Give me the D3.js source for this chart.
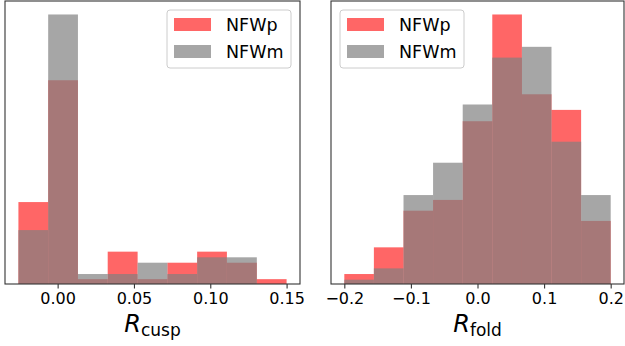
<!DOCTYPE html>
<html>
<head>
<meta charset="utf-8">
<script src="https://cdn.jsdelivr.net/npm/d3@7"></script>
<style>
  body { margin: 0; background: white; }
  svg { display: block; font-family: "DejaVu Sans", sans-serif; }
</style>
</head>
<body>
<svg id="chart" width="625" height="346"></svg>
<script>
// left panel: R_cusp, 9 bins from -0.0257 to 0.15
const cuspEdges = [-0.0257, -0.0062, 0.0133, 0.0328, 0.0524, 0.0719, 0.0914, 0.1109, 0.1305, 0.15];
const cuspP = [15.2, 37.8, 0.9, 6.0, 0.9, 3.95, 6.0, 3.95, 0.9];
const cuspM = [10.0, 50.0, 1.85, 1.85, 3.95, 1.85, 4.95, 4.95, 0];
const cuspTicks = [0.00, 0.05, 0.10, 0.15];

// right panel: R_fold, 9 bins from -0.2 to 0.2
const foldEdges = [-0.2, -0.1556, -0.1111, -0.0667, -0.0222, 0.0222, 0.0667, 0.1111, 0.1556, 0.2];
const foldP = [1.85, 6.8, 13.6, 15.6, 30.2, 50.0, 35.2, 32.3, 11.7];
const foldM = [0.8, 2.9, 16.5, 22.5, 33.3, 42.0, 44.0, 26.4, 16.5];
const foldTicks = [-0.2, -0.1, 0.0, 0.1, 0.2];

const seriesNames = ["NFWp", "NFWm"];

const svg = d3.select("#chart");

function panel(box, edges, p, m, ticks, fmt, sub, legendX) {
  const g = svg.append("g");
  const lo = edges[0], hi = edges[edges.length - 1];
  const pad = (hi - lo) * 0.05;
  const x = d3.scaleLinear().domain([lo - pad, hi + pad]).range([box.x0, box.x1]);
  const ymax = d3.max(p.concat(m));
  const y = d3.scaleLinear().domain([0, ymax * 1.05]).range([box.y1, box.y0]);

  // bars: red first, gray on top
  [[p, "red", 0.6], [m, "gray", 0.7]].forEach(([vals, col, op]) => {
    g.append("g").selectAll("rect").data(vals).join("rect")
      .attr("x", (d, i) => x(edges[i]))
      .attr("width", (d, i) => x(edges[i + 1]) - x(edges[i]))
      .attr("y", d => y(d))
      .attr("height", d => y(0) - y(d))
      .attr("fill", col).attr("fill-opacity", op);
  });

  // frame
  g.append("rect").attr("x", box.x0).attr("y", box.y0)
    .attr("width", box.x1 - box.x0).attr("height", box.y1 - box.y0)
    .attr("fill", "none").attr("stroke", "#333").attr("stroke-width", 1.1);

  // x axis
  const ax = g.append("g").attr("transform", `translate(0,${box.y1})`)
    .call(d3.axisBottom(x).tickValues(ticks).tickFormat(fmt).tickSize(4.5).tickPadding(4));
  ax.select(".domain").remove();
  ax.selectAll("line").attr("stroke", "#333").attr("stroke-width", 1.1);
  ax.selectAll("text").attr("font-size", 16).attr("fill", "black")
    .attr("font-family", "DejaVu Sans");

  // axis label
  const cx = (box.x0 + box.x1) / 2;
  const lab = g.append("text").attr("x", cx).attr("y", 332).attr("text-anchor", "middle")
    .attr("font-family", "DejaVu Sans");
  lab.append("tspan").attr("font-size", 24).attr("font-style", "italic").text("R");
  lab.append("tspan").attr("font-size", 17).attr("dy", 3.5).text(sub);

  // legend
  const lg = g.append("g").attr("transform", `translate(${legendX},10)`);
  lg.append("rect").attr("width", 124).attr("height", 58).attr("rx", 3)
    .attr("fill", "white").attr("fill-opacity", 0.8)
    .attr("stroke", "#cccccc").attr("stroke-width", 1);
  [["red", 0.6], ["gray", 0.7]].forEach(([col, op], i) => {
    lg.append("rect").attr("x", 7).attr("y", 8 + i * 27).attr("width", 37).attr("height", 13)
      .attr("fill", col).attr("fill-opacity", op);
    lg.append("text").attr("x", 59).attr("y", 21 + i * 27).attr("font-size", 17.5)
      .attr("fill", "black").text(seriesNames[i]);
  });
}

panel({x0: 5, x1: 300, y0: 1, y1: 284}, cuspEdges, cuspP, cuspM, cuspTicks,
  d3.format(".2f"), "cusp", 167);
panel({x0: 331, x1: 624, y0: 1, y1: 284}, foldEdges, foldP, foldM, foldTicks,
  d => d3.format(".1f")(d).replace("-", "\u2212"), "fold", 340);
</script>
</body>
</html>
